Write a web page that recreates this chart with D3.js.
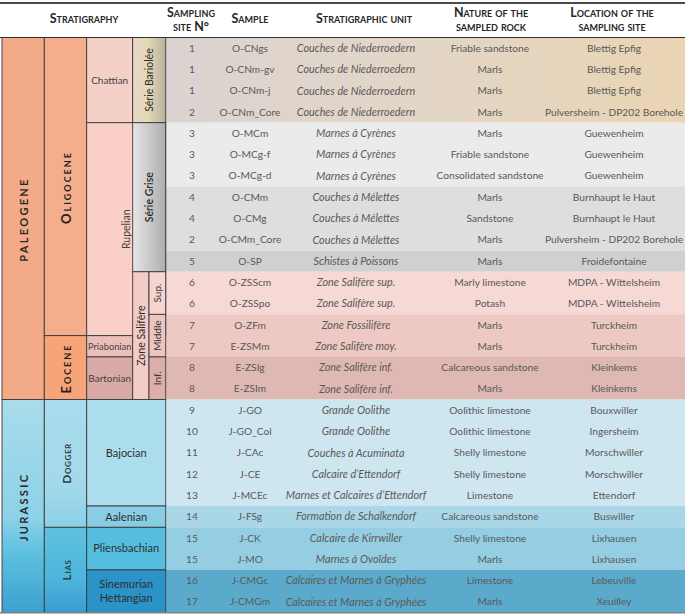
<!DOCTYPE html>
<html><head><meta charset="utf-8">
<script src="https://cdn.jsdelivr.net/npm/d3@7"></script>
<style>
body{margin:0;background:#fff;}
svg{display:block;font-family:Lato, "DejaVu Sans", sans-serif;}
</style></head><body>
<svg id="c" width="685" height="615"></svg>
<script>
// ---------- DATA ----------
const sites = [1,1,1,2,3,3,3,4,4,2,5,6,6,7,7,8,8,9,10,11,12,13,14,15,15,16,17];
const samples = ["O-CNgs","O-CNm-gv","O-CNm-j","O-CNm_Core","O-MCm","O-MCg-f","O-MCg-d","O-CMm","O-CMg","O-CMm_Core","O-SP","O-ZSScm","O-ZSSpo","O-ZFm","E-ZSMm","E-ZSIg","E-ZSIm","J-GO","J-GO_Col","J-CAc","J-CE","J-MCEc","J-FSg","J-CK","J-MO","J-CMGc","J-CMGm"];
const units = ["Couches de Niederroedern","Couches de Niederroedern","Couches de Niederroedern","Couches de Niederroedern",
  "Marnes à Cyrènes","Marnes à Cyrènes","Marnes à Cyrènes","Couches à Mélettes","Couches à Mélettes","Couches à Mélettes",
  "Schistes à Poissons","Zone Salifère sup.","Zone Salifère sup.","Zone Fossilifère","Zone Salifère moy.","Zone Salifère inf.","Zone Salifère inf.",
  "Grande Oolithe","Grande Oolithe","Couches à Acuminata","Calcaire d’Ettendorf","Marnes et Calcaires d’Ettendorf","Formation de Schalkendorf",
  "Calcaire de Kirrwiller","Marnes à Ovoïdes","Calcaires et Marnes à Gryphées","Calcaires et Marnes à Gryphées"];
const rocks = ["Friable sandstone","Marls","Marls","Marls","Marls","Friable sandstone","Consolidated sandstone","Marls","Sandstone","Marls","Marls",
  "Marly limestone","Potash","Marls","Marls","Calcareous sandstone","Marls",
  "Oolithic limestone","Oolithic limestone","Shelly limestone","Shelly limestone","Limestone","Calcareous sandstone","Shelly limestone","Marls","Limestone","Marls"];
const locations = ["Blettig Epfig","Blettig Epfig","Blettig Epfig","Pulversheim - DP202 Borehole","Guewenheim","Guewenheim","Guewenheim",
  "Burnhaupt le Haut","Burnhaupt le Haut","Pulversheim - DP202 Borehole","Froidefontaine","MDPA - Wittelsheim","MDPA - Wittelsheim",
  "Turckheim","Turckheim","Kleinkems","Kleinkems","Bouxwiller","Ingersheim","Morschwiller","Morschwiller","Ettendorf","Buswiller",
  "Lixhausen","Lixhausen","Lebeuville","Xeuilley"];

const eras = [{name:"PALEOGENE",from:0,to:16},{name:"JURASSIC",from:17,to:26}];
const epochs = [{name:"Oligocene",from:0,to:13},{name:"Eocene",from:14,to:16},{name:"Dogger",from:17,to:22},{name:"Lias",from:23,to:26}];
const stages = [{name:"Chattian",from:0,to:3},{name:"Rupelian",from:4,to:13},{name:"Priabonian",from:14,to:14},{name:"Bartonian",from:15,to:16},
  {name:"Bajocian",from:17,to:21},{name:"Aalenian",from:22,to:22},{name:"Pliensbachian",from:23,to:24},{name:"Sinemurian|Hettangian",from:25,to:26}];
const formations = [{name:"Série Bariolée",from:0,to:3},{name:"Série Grise",from:4,to:10},{name:"Zone Salifère",from:11,to:16}];
const subzones = [{name:"Sup.",from:11,to:12},{name:"Middle",from:13,to:14},{name:"Inf.",from:15,to:16}];
const bands = [{from:0,to:3},{from:4,to:6},{from:7,to:9},{from:10,to:10},{from:11,to:12},{from:13,to:14},{from:15,to:16},
  {from:17,to:21},{from:22,to:22},{from:23,to:24},{from:25,to:26}];
const headers = ["Stratigraphy","Sampling|site N°","Sample","Stratigraphic unit","Nature of the|sampled rock","Location of the|sampling site"];

// ---------- STYLES ----------
const bandFill = ["url(#gChattRows)","#EBEBEB","#DEDEDE","#D0D0D0","#F6D8D4","#EEC9C3","#E0B8B3","#CEE6F0","#A9D7E7","#95CEE2","#5BAACB"];
const eraFill = {"PALEOGENE":"#F3AA86","JURASSIC":"url(#gJur)"};
const epochFill = {"Oligocene":"#F4AE8B","Eocene":"#F6A478","Dogger":"url(#gDog)","Lias":"url(#gLias)"};
const stageFill = {"Chattian":"#F5D0C6","Rupelian":"#F9CFC7","Priabonian":"#EBBFB8","Bartonian":"#D9AAA6","Bajocian":"#ABDDEC","Aalenian":"#88CDE3","Pliensbachian":"#55BEDE","Sinemurian|Hettangian":"#2B93C7"};
const formFill = {"Série Bariolée":"url(#gBar)","Série Grise":"url(#gGrise)","Zone Salifère":"#F4CCC7"};
const subFill = {"Sup.":"#F6D4D0","Middle":"#EEC4BE","Inf.":"#DCAEAA"};

// ---------- LAYOUT ----------
const svg = d3.select("#c");
const W = 685;
const y = d3.scaleBand().domain(d3.range(samples.length)).range([37.5, 612.5]);
const bw = y.bandwidth();
const y0 = d => y(d.from), y1 = d => y(d.to) + bw, ym = d => (y(d.from) + y(d.to) + bw) / 2;
const X = {era:[2,44.3], epoch:[44.3,86.7], stage:[86.7,132.7], form:[132.7,165.7], formSplit:149, data:165.7};
const dataCols = d3.scaleOrdinal().domain(["site","sample","unit","rock","loc"]).range([192,250,356,490,614]);
const headerX = [84,191,250,364,491,612];

// gradients
const defs = svg.append("defs");
function lin(id, horiz, stops){
  const g = defs.append("linearGradient").attr("id",id)
    .attr("x1",0).attr("y1",0).attr("x2",horiz?1:0).attr("y2",horiz?0:1);
  stops.forEach(s=>g.append("stop").attr("offset",s[0]).attr("stop-color",s[1]));
}
lin("gChattRows",true,[[0,"#DBD3D1"],[0.45,"#E2D6C8"],[1,"#EAD5B3"]]);
lin("gBar",true,[[0,"#EAD8CC"],[0.45,"#E3DAB4"],[1,"#B8B19F"]]);
lin("gGrise",true,[[0,"#E6E6E6"],[1,"#ADADAD"]]);
lin("gJur",false,[[0,"#A8DCEB"],[0.55,"#8ED2E8"],[0.72,"#5EC1E0"],[1,"#3C9FCF"]]);
lin("gDog",false,[[0,"#A9DCEC"],[0.7,"#A2D9EA"],[1,"#8ACFE6"]]);
lin("gLias",false,[[0,"#5FC2E0"],[0.6,"#4EB6DC"],[1,"#3A9CCE"]]);

// data bands
svg.append("g").selectAll("rect").data(bands).join("rect")
  .attr("x",X.data).attr("width",W-X.data).attr("y",y0).attr("height",d=>y1(d)-y0(d))
  .attr("fill",(d,i)=>bandFill[i]);

// data text
const txt = svg.append("g").attr("fill","#595959").attr("text-anchor","middle");
const cols = [["site",sites,false],["sample",samples,false],["unit",units,true],["rock",rocks,false],["loc",locations,false]];
cols.forEach(([k,arr,it])=>{
  txt.append("g").selectAll("text").data(arr).join("text")
    .attr("x",dataCols(k)).attr("y",(d,i)=>y(i)+bw/2).attr("dy","0.35em")
    .attr("font-size",it?10.8:10.2)
    .attr("font-style",it?"italic":"normal").text(d=>d);
});

// left cells
const cellG = svg.append("g");
function cells(data, fillMap, xr){
  cellG.append("g").selectAll("rect").data(data).join("rect")
    .attr("x",d=>xr(d)[0]).attr("width",d=>xr(d)[1]-xr(d)[0])
    .attr("y",y0).attr("height",d=>y1(d)-y0(d))
    .attr("fill",d=>fillMap[d.name]).attr("stroke","#3a3a3a").attr("stroke-width",0.9);
}
const covered = s => formations.some(f=>f.from<=s.from && f.to>=s.to);
const hasSub = f => subzones.some(s=>s.from>=f.from && s.to<=f.to);
cells(eras, eraFill, ()=>X.era);
cells(epochs, epochFill, ()=>X.epoch);
cells(stages, stageFill, d=>covered(d)?X.stage:[X.stage[0],X.form[1]]);
cells(formations, formFill, d=>hasSub(d)?[X.form[0],X.formSplit]:X.form);
cells(subzones, subFill, ()=>[X.formSplit,X.form[1]]);

// labels
const lab = svg.append("g").attr("text-anchor","middle");
function vtext(cx, cy, t, attrs){
  const e = lab.append("text").attr("transform",`translate(${cx},${cy}) rotate(-90)`).attr("dy","0.35em").text(t);
  Object.entries(attrs).forEach(([k,v])=>e.attr(k,v));
  return e;
}
eras.forEach(d=>vtext((X.era[0]+X.era[1])/2+1, ym(d)+1, d.name,
  {"font-size":11,"font-weight":"bold","letter-spacing":2.3,"fill":"#2a2a2a"}));
epochs.forEach(d=>{
  const big = d.name==="Oligocene"||d.name==="Eocene";
  vtext((X.epoch[0]+X.epoch[1])/2+1, ym(d)+(big?1:0), d.name,
    {"font-size":big?13:12,"font-weight":"bold","font-variant":"small-caps","letter-spacing":big?2:0.6,"fill":big?"#1f1f1f":"#2c3e4a"});
});
stages.forEach(d=>{
  const xr = covered(d)?X.stage:[X.stage[0],X.form[1]];
  const cx = (xr[0]+xr[1])/2;
  const jur = d.from>=eras[1].from;
  const col = jur?"#2e2e2e":"#444";
  if (d.to-d.from>=8){
    vtext(cx, ym(d), d.name, {"font-size":10.5,"fill":col});
  } else {
    const lines = d.name.split("|");
    const fs = jur?11:10;
    const t = lab.append("text").attr("x",cx).attr("y",ym(d)).attr("font-size",fs).attr("fill",col);
    lines.forEach((l,i)=>t.append("tspan").attr("x",cx).attr("dy",i===0?((0.35-(lines.length-1)*0.6)+"em"):"1.2em").text(l));
    const avail = xr[1]-xr[0]-2.5;
    const len = t.node().getBBox().width;
    if (len > avail) t.attr("font-size", fs*avail/len);
  }
});
formations.forEach(d=>{
  const xr = hasSub(d)?[X.form[0],X.formSplit]:X.form;
  vtext((xr[0]+xr[1])/2, ym(d), d.name, {"font-size":10.5,"fill":"#2a2a2a","font-weight":d.name==="Série Grise"?"600":"normal"});
});
subzones.forEach(d=>vtext((X.formSplit+X.form[1])/2, ym(d), d.name, {"font-size":10,"fill":"#333"}));

// header
const hd = svg.append("g").attr("text-anchor","middle").attr("font-weight","bold").attr("font-variant","small-caps")
  .attr("font-size",12.5).attr("fill","#262626");
headers.forEach((h,i)=>{
  const lines = h.split("|");
  const t = hd.append("text").attr("x",headerX[i]).attr("y",lines.length>1?16.5:23);
  lines.forEach((l,j)=>t.append("tspan").attr("x",headerX[i]).attr("dy",j===0?0:14.5).text(l));
});

// rules
svg.append("line").attr("x1",0).attr("x2",W).attr("y1",3).attr("y2",3).attr("stroke","#4a4a4a").attr("stroke-width",2);
svg.append("line").attr("x1",0).attr("x2",W).attr("y1",37.5).attr("y2",37.5).attr("stroke","#333").attr("stroke-width",1);
svg.append("line").attr("x1",0).attr("x2",W).attr("y1",612.8).attr("y2",612.8).attr("stroke","#808080").attr("stroke-width",1.5);
</script>
</body></html>
